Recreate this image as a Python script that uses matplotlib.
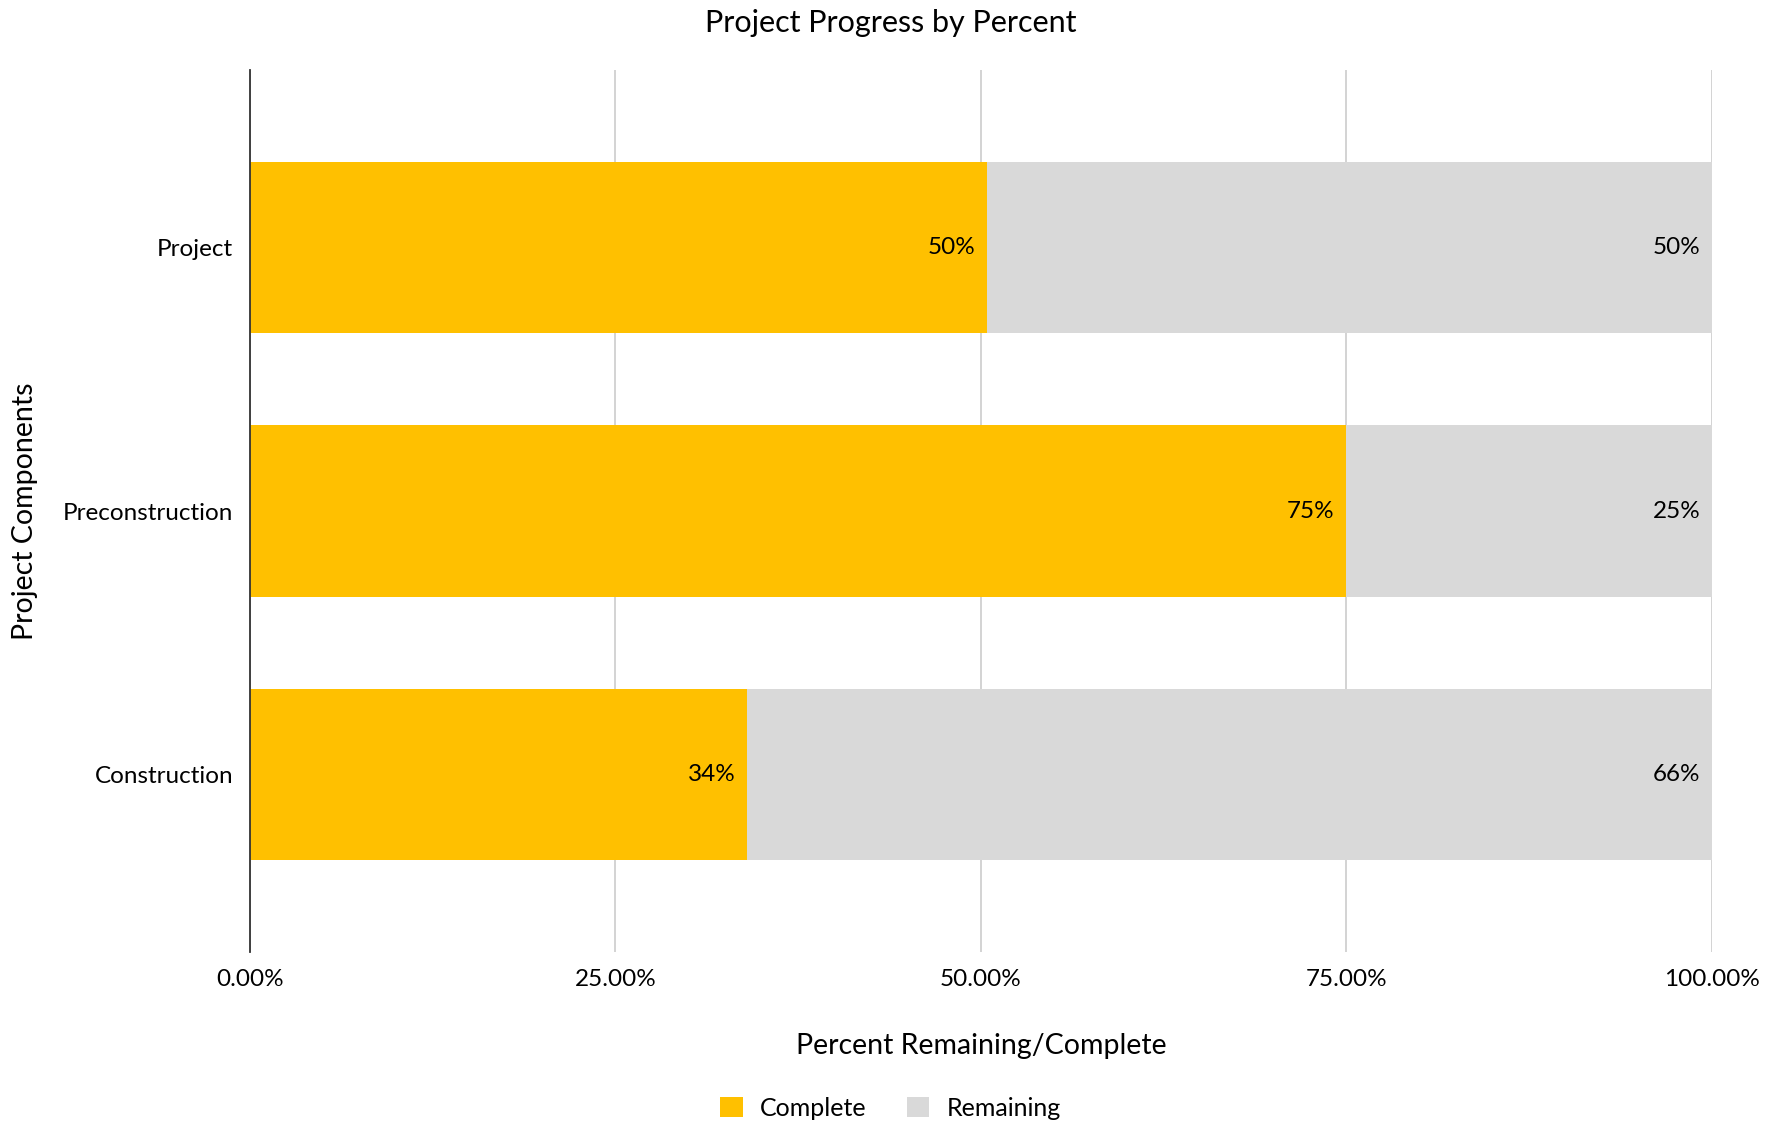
import numpy as np
import matplotlib.pyplot as plt
from matplotlib.ticker import FuncFormatter

plt.rcParams['font.family'] = ['Lato', 'DejaVu Sans']

# data (bottom to top)
categories = ['Construction', 'Preconstruction', 'Project']
complete = [34.0, 75.0, 50.4]
remaining = [66.0, 25.0, 49.6]

W, H = 1781, 1127
fig = plt.figure(figsize=(W / 100, H / 100), dpi=100)
ax = fig.add_axes([250 / W, 1 - 952 / H, (1712 - 250) / W, (952 - 70) / H])

y = np.arange(len(categories))
ax.barh(y, complete, height=0.65, color='#FFC000', label='Complete', zorder=3)
ax.barh(y, remaining, left=complete, height=0.65, color='#D9D9D9', label='Remaining', zorder=3)

for i in range(len(categories)):
    ax.text(complete[i] - 0.8, y[i], f'{complete[i]:.0f}%', ha='right', va='center',
            fontsize=17.5, color='#000000', zorder=4)
    ax.text(complete[i] + remaining[i] - 0.8, y[i], f'{remaining[i]:.0f}%', ha='right', va='center',
            fontsize=17.5, color='#000000', zorder=4)

ax.set_xlim(0, 100)
ax.set_ylim(-0.675, 2.675)
ax.set_xticks([0, 25, 50, 75, 100])
ax.xaxis.set_major_formatter(FuncFormatter(lambda v, p: f'{v:.2f}%'))
ax.set_yticks(y)
ax.set_yticklabels(categories)
ax.tick_params(axis='both', length=0, labelsize=17.5, colors='#000000')
ax.tick_params(axis='x', pad=12)
ax.tick_params(axis='y', pad=12)

ax.grid(axis='x', color='#CCCCCC', linewidth=1.2, zorder=0)
for s in ['top', 'right', 'bottom']:
    ax.spines[s].set_visible(False)
ax.spines['left'].set_color('#333333')
ax.spines['left'].set_linewidth(1.3)
ax.spines['left'].set_zorder(5)

ax.set_xlabel('Percent Remaining/Complete', fontsize=20.5, labelpad=31)
ax.set_ylabel('Project Components', fontsize=20.5, labelpad=18)
fig.text(0.5, 1 - 23 / H, 'Project Progress by Percent', ha='center', va='center', fontsize=22)

fig.legend(loc='center', bbox_to_anchor=(0.5, 1 - 1108 / H), ncol=2, frameon=False,
           fontsize=18, handlelength=0.9, handleheight=0.9, columnspacing=1.6, handletextpad=0.7)

fig.savefig('out.png', dpi=100)
